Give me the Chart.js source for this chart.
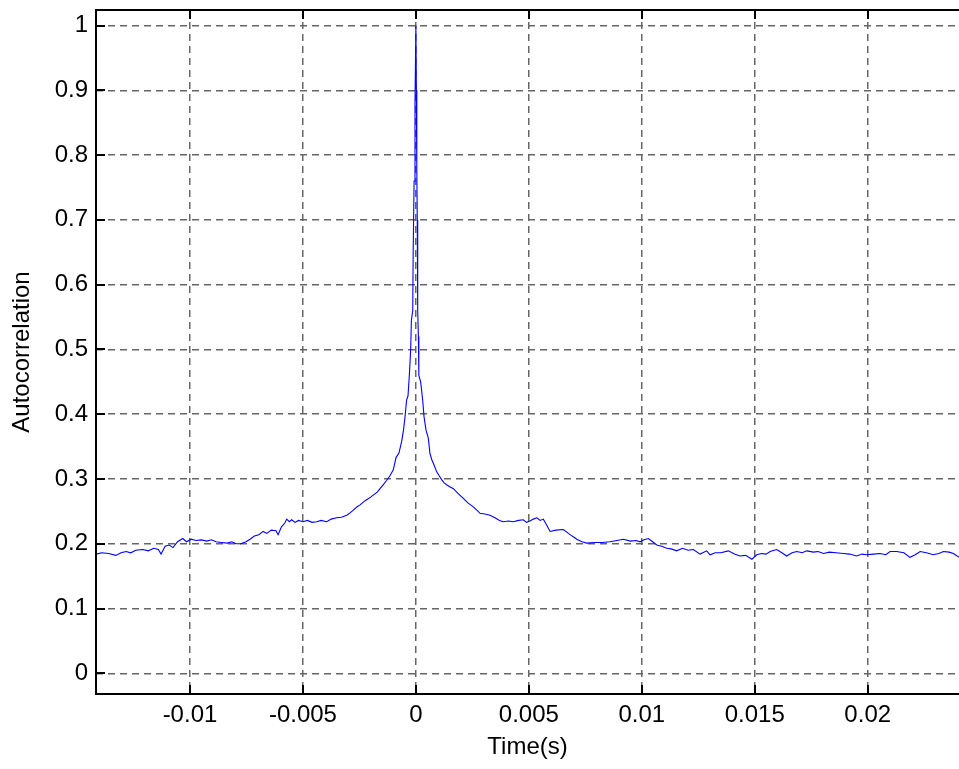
<!DOCTYPE html>
<html>
<head>
<meta charset="utf-8">
<script src="https://cdn.jsdelivr.net/npm/chart.js@4.4.1/dist/chart.umd.min.js"></script>
<style>
  body { margin: 0; background: #fff; }
  #wrap { width: 959px; height: 769px; position: relative; }
</style>
</head>
<body>
<div id="wrap"><canvas id="autocorr"></canvas></div>
<script>
// time lag (s) and autocorrelation
const timeValues = [
  -0.01416, -0.01390, -0.01360, -0.01328, -0.01305, -0.01283, -0.01262, -0.01240, -0.01209, -0.01185,
  -0.01160, -0.01140, -0.01128, -0.01110, -0.01092, -0.01075, -0.01055, -0.01032, -0.01015, -0.00995,
  -0.00973, -0.00950, -0.00925, -0.00905, -0.00885, -0.00860, -0.00835, -0.00815, -0.00796, -0.00775,
  -0.00752, -0.00734, -0.00715, -0.00695, -0.00676, -0.00660, -0.00640, -0.00619, -0.00610, -0.00595,
  -0.00580, -0.00572, -0.00560, -0.00550, -0.00535, -0.00520, -0.00500, -0.00480, -0.00460, -0.00439,
  -0.00420, -0.00395, -0.00375, -0.00351, -0.00330, -0.00306, -0.00290, -0.00277, -0.00260, -0.00247,
  -0.00230, -0.00218, -0.00200, -0.00189, -0.00170, -0.00159, -0.00145, -0.00129, -0.00115, -0.00100,
  -0.00088, -0.00075, -0.00063, -0.00055, -0.00048, -0.00041, -0.00035, -0.00029, -0.00023, -0.00020,
  -0.00014, -0.00012, -0.00008, -0.00004, 0,
  0.00002, 0.00004, 0.00006, 0.00008, 0.00011, 0.00013, 0.00021, 0.00030, 0.00036, 0.00045,
  0.00055, 0.00062, 0.00070, 0.00080, 0.00092, 0.00103, 0.00114, 0.00125, 0.00136, 0.00150,
  0.00166, 0.00185, 0.00210, 0.00230, 0.00254, 0.00270, 0.00284, 0.00305, 0.00328, 0.00350,
  0.00370, 0.00387, 0.00410, 0.00431, 0.00455, 0.00475, 0.00490, 0.00505, 0.00520, 0.00535,
  0.00550, 0.00564, 0.00580, 0.00594, 0.00620, 0.00652, 0.00668, 0.00682, 0.00700, 0.00712,
  0.00735, 0.00756, 0.00790, 0.00825, 0.00859, 0.00890, 0.00918, 0.00950, 0.00975, 0.00992,
  0.01010, 0.01029, 0.01048, 0.01066, 0.01088, 0.01110, 0.01130, 0.01154, 0.01180, 0.01205,
  0.01228, 0.01258, 0.01287, 0.01302, 0.01325, 0.01350, 0.01383, 0.01410, 0.01435, 0.01460,
  0.01487, 0.01509, 0.01530, 0.01550, 0.01568, 0.01597, 0.01620, 0.01641, 0.01665, 0.01686,
  0.01710, 0.01730, 0.01760, 0.01780, 0.01804, 0.01830, 0.01860, 0.01892, 0.01920, 0.01951,
  0.01975, 0.01996, 0.02025, 0.02054, 0.02080, 0.02099, 0.02128, 0.02160, 0.02187, 0.02210,
  0.02232, 0.02260, 0.02290, 0.02315, 0.02335, 0.02360, 0.02379, 0.02405
];
const autocorrValues = [
  0.184, 0.186, 0.185, 0.182, 0.186, 0.188, 0.186, 0.190, 0.191, 0.189,
  0.193, 0.191, 0.184, 0.196, 0.198, 0.194, 0.203, 0.208, 0.203, 0.207,
  0.205, 0.206, 0.204, 0.206, 0.203, 0.202, 0.201, 0.203, 0.200, 0.200,
  0.203, 0.207, 0.212, 0.214, 0.219, 0.216, 0.221, 0.220, 0.214, 0.226,
  0.232, 0.238, 0.234, 0.237, 0.233, 0.236, 0.234, 0.236, 0.233, 0.234,
  0.236, 0.234, 0.238, 0.240, 0.241, 0.244, 0.248, 0.252, 0.257, 0.260,
  0.265, 0.268, 0.272, 0.275, 0.280, 0.285, 0.291, 0.298, 0.305, 0.314,
  0.333, 0.340, 0.358, 0.375, 0.396, 0.422, 0.428, 0.460, 0.500, 0.545,
  0.560, 0.650, 0.760, 0.880, 1.000,
  0.900, 0.780, 0.700, 0.560, 0.520, 0.460, 0.450, 0.422, 0.396, 0.375,
  0.363, 0.340, 0.330, 0.322, 0.311, 0.305, 0.299, 0.294, 0.291, 0.288,
  0.285, 0.278, 0.270, 0.263, 0.257, 0.252, 0.247, 0.246, 0.244, 0.240,
  0.236, 0.234, 0.235, 0.234, 0.236, 0.237, 0.233, 0.235, 0.238, 0.240,
  0.236, 0.238, 0.228, 0.219, 0.221, 0.222, 0.218, 0.214, 0.210, 0.207,
  0.203, 0.201, 0.202, 0.202, 0.203, 0.205, 0.207, 0.204, 0.205, 0.203,
  0.206, 0.208, 0.203, 0.198, 0.196, 0.193, 0.192, 0.189, 0.193, 0.190,
  0.191, 0.184, 0.189, 0.183, 0.186, 0.186, 0.189, 0.184, 0.181, 0.182,
  0.176, 0.183, 0.185, 0.184, 0.188, 0.191, 0.186, 0.181, 0.186, 0.188,
  0.186, 0.189, 0.187, 0.188, 0.185, 0.187, 0.186, 0.185, 0.184, 0.181,
  0.184, 0.183, 0.184, 0.185, 0.183, 0.188, 0.188, 0.186, 0.179, 0.183,
  0.188, 0.186, 0.183, 0.185, 0.188, 0.187, 0.185, 0.179
];
const xTickValues = [-0.01, -0.005, 0, 0.005, 0.01, 0.015, 0.02];
const yTickValues = [0, 0.1, 0.2, 0.3, 0.4, 0.5, 0.6, 0.7, 0.8, 0.9, 1];

const fontFamily = "'Liberation Sans', Arial, sans-serif";

// matlab style box: left/top/bottom frame with inward ticks
const frameBox = {
  id: 'frameBox',
  afterDraw(chart) {
    const { ctx, chartArea: a } = chart;
    const xs = chart.scales.x, ys = chart.scales.y;
    const tick = 9;
    ctx.save();
    ctx.strokeStyle = '#000';
    ctx.lineWidth = 2;
    ctx.beginPath();
    ctx.moveTo(a.right + 2, a.top);
    ctx.lineTo(a.left, a.top);
    ctx.lineTo(a.left, a.bottom);
    ctx.lineTo(a.right + 2, a.bottom);
    xs.ticks.forEach(t => {
      const px = Math.round(xs.getPixelForValue(t.value));
      ctx.moveTo(px, a.bottom); ctx.lineTo(px, a.bottom - tick);
      ctx.moveTo(px, a.top); ctx.lineTo(px, a.top + tick);
    });
    ys.ticks.forEach(t => {
      const py = Math.round(ys.getPixelForValue(t.value));
      ctx.moveTo(a.left, py); ctx.lineTo(a.left + tick, py);
    });
    ctx.stroke();
    ctx.restore();
  }
};

new Chart(document.getElementById('autocorr'), {
  type: 'line',
  data: {
    datasets: [{
      label: 'Autocorrelation',
      data: timeValues.map((t, i) => ({ x: t, y: autocorrValues[i] })),
      borderColor: '#0000ff',
      borderWidth: 1.1,
      pointRadius: 0,
      tension: 0,
      fill: false
    }]
  },
  options: {
    responsive: true,
    maintainAspectRatio: false,
    animation: false,
    layout: { padding: { top: 10, right: 0, bottom: 0, left: 0 } },
    plugins: {
      legend: { display: false },
      tooltip: { enabled: false }
    },
    scales: {
      x: {
        type: 'linear',
        min: -0.01416,
        max: 0.02404,
        afterBuildTicks: scale => { scale.ticks = xTickValues.map(v => ({ value: v })); },
        afterFit: scale => { scale.height = 75; scale.paddingLeft = 0; scale.paddingRight = 0; },
        grid: { color: '#666', lineWidth: 1.5, drawTicks: false },
        border: { display: false, dash: [7, 5] },
        ticks: {
          padding: 7,
          color: '#000',
          font: { family: fontFamily, size: 24 },
          maxRotation: 0,
          callback: v => String(v)
        },
        title: {
          display: true,
          text: 'Time(s)',
          color: '#000',
          font: { family: fontFamily, size: 24 },
          padding: { top: 0, bottom: 7 }
        }
      },
      y: {
        min: -0.032,
        max: 1.024,
        afterBuildTicks: scale => { scale.ticks = yTickValues.map(v => ({ value: v })); },
        afterFit: scale => { scale.width = 96; scale.paddingTop = 0; scale.paddingBottom = 0; },
        grid: { color: '#666', lineWidth: 1.5, drawTicks: false },
        border: { display: false, dash: [7, 5] },
        ticks: {
          padding: 8,
          color: '#000',
          font: { family: fontFamily, size: 24 },
          callback: v => String(v)
        },
        title: {
          display: true,
          text: 'Autocorrelation',
          color: '#000',
          font: { family: fontFamily, size: 24 },
          padding: { top: 8, bottom: 0 }
        }
      }
    }
  },
  plugins: [frameBox]
});
</script>
</body>
</html>
